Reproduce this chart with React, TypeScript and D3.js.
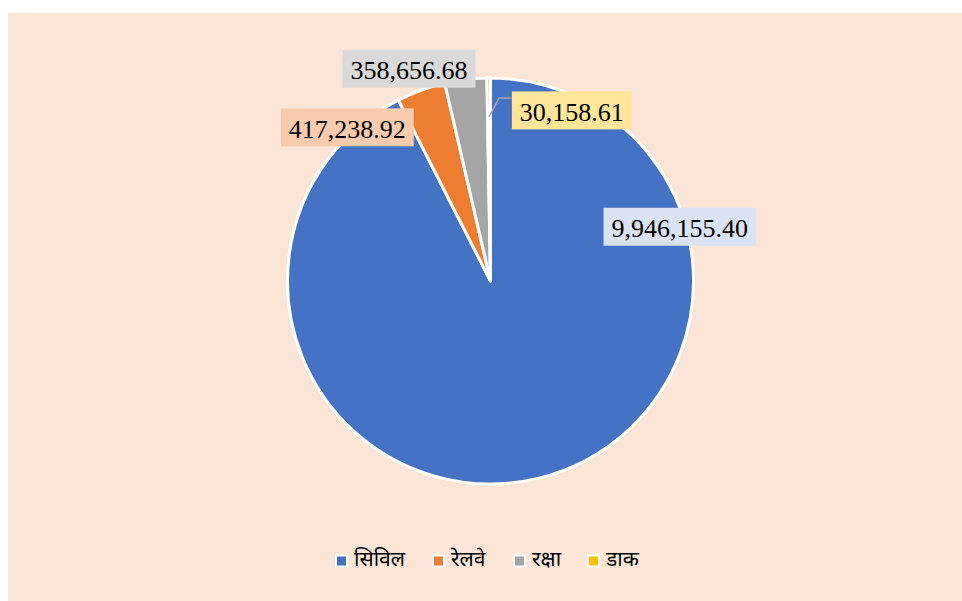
import React from "react";
import * as d3 from "d3";

const categories = ["सिविल", "रेलवे", "रक्षा", "डाक"];
const values = [9946155.4, 417238.92, 358656.68, 30158.61];
const colors = ["#4472c4", "#ed7d31", "#a5a5a5", "#ffc000"];
const labelFills = ["#dae3f3", "#f8cbad", "#d9d9d9", "#ffe699"];
// label placement relative to pie center: [angle from 12 o'clock in degrees, radius factor]
const labelPlacement: [number, number][] = [
  [74, 0.97],
  [317, 1.035],
  [339, 1.12],
  [25.5, 0.931],
];

const W = 962;
const H = 601;
const cx = 490.5;
const cy = 281;
const R = 203;

export default function App() {
  const pie = d3
    .pie<number>()
    .sort(null)
    .value((d) => d)
    .startAngle(0)
    .endAngle(2 * Math.PI);
  const arcs = pie(values);
  const arcGen = d3.arc<d3.PieArcDatum<number>>().innerRadius(0).outerRadius(R);
  const fmt = d3.format(",.2f");

  const boxH = 38;
  const fontSize = 26;
  const pad = 8;

  const polar = (deg: number, r: number): [number, number] => {
    const a = (deg * Math.PI) / 180;
    return [cx + Math.sin(a) * r, cy - Math.cos(a) * r];
  };
  const textWidth = (s: string) => {
    let w = 0;
    for (const ch of s) w += /[0-9]/.test(ch) ? 0.5 * fontSize : 0.25 * fontSize;
    return w;
  };

  // legend layout
  const legendY = 561;
  const legendItemWidths = [97, 81, 74, 60];
  const legendStart = 336;

  return (
    <div style={{ position: "absolute", left: 0, top: 0 }}>
      <svg width={W} height={H} style={{ display: "block" }}>
        <rect x={8} y={13} width={W - 8} height={H - 13} fill="#fbe5d6" />
        <g transform={`translate(${cx},${cy})`}>
          {arcs.map((a, i) => (
            <path
              key={i}
              d={arcGen(a) || ""}
              fill={colors[i]}
              stroke="#ffffff"
              strokeWidth={3}
              strokeLinejoin="round"
            />
          ))}
        </g>
        {arcs.map((a, i) => {
          const [px, py] = polar(labelPlacement[i][0], R * labelPlacement[i][1]);
          const text = fmt(values[i]);
          const w = Math.min(textWidth(text), 142) + 2 * pad;
          return (
            <g key={"l" + i}>
              {i === 3 && (() => {
                const mid = ((a.startAngle + a.endAngle) / 2) * 180 / Math.PI;
                const [sx, sy] = polar(mid, R * 0.81);
                return (
                  <polyline
                    points={`${sx},${sy} ${sx + 10},${py - 12.5} ${px - w / 2},${py - 12.5}`}
                    fill="none"
                    stroke="#a5a5a5"
                    strokeWidth={1.5}
                  />
                );
              })()}
              <rect x={px - w / 2} y={py - boxH / 2} width={w} height={boxH} fill={labelFills[i]} />
              <text
                x={px}
                y={py + fontSize * 0.4}
                textAnchor="middle"
                textLength={textWidth(text) > 142 ? 142 : undefined}
                lengthAdjust="spacingAndGlyphs"
                fontFamily="'Times New Roman', 'Liberation Serif', serif"
                fontSize={fontSize}
                fill="#000"
              >
                {text}
              </text>
            </g>
          );
        })}
        {categories.map((c, i) => {
          const x = legendStart + d3.sum(legendItemWidths.slice(0, i));
          return (
            <g key={"lg" + i} transform={`translate(${x},${legendY})`}>
              <rect x={0} y={-5.5} width={11} height={11} fill={colors[i]} stroke="#ffffff" strokeWidth={2} />
              <text
                x={18}
                y={0}
                dominantBaseline="central"
                fontFamily="'Noto Sans Devanagari', 'Mangal', 'Nirmala UI', sans-serif"
                fontSize={21}
                fill="#000"
              >
                {c}
              </text>
            </g>
          );
        })}
      </svg>
    </div>
  );
}
